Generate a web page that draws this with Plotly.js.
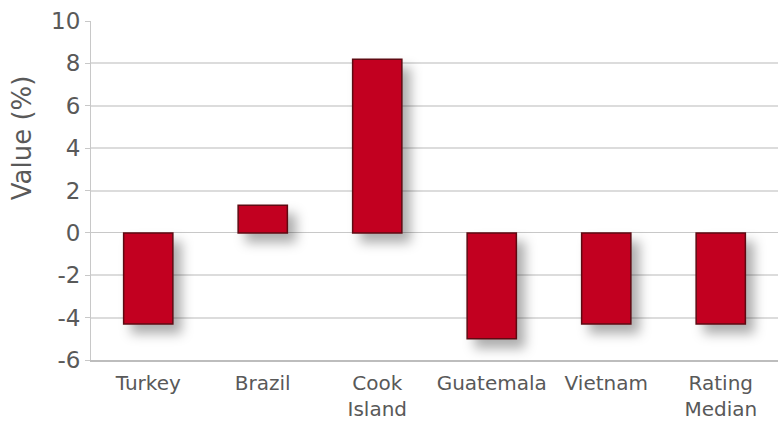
<!DOCTYPE html>
<html>
<head>
<meta charset="utf-8">
<script src="https://cdn.plot.ly/plotly-3.0.1.min.js"></script>
<style>
  html, body { margin: 0; padding: 0; background: #fff; }
  #chart { width: 778px; height: 423px; }
  /* soft drop shadow behind each bar */
  #chart .bars .point path { filter: drop-shadow(8px 9px 6px rgba(0,0,0,0.32)); }
</style>
</head>
<body>
<div id="chart"></div>
<script>
// Countries and their values (%)
const categories = ['Turkey', 'Brazil', 'Cook<br>Island', 'Guatemala', 'Vietnam', 'Rating<br>Median'];
const values = [-4.3, 1.3, 8.2, -5.0, -4.3, -4.3];
const yTicks = [-6, -4, -2, 0, 2, 4, 6, 8, 10];

const textColor = '#595959';
const fontFamily = '"DejaVu Sans", sans-serif';

const trace = {
  type: 'bar',
  x: categories,
  y: values,
  marker: {
    color: '#c20020',
    line: { color: '#5e0a12', width: 1.5 }
  },
  hoverinfo: 'x+y'
};

const layout = {
  width: 778,
  height: 423,
  margin: { l: 91, r: 0, t: 21, b: 63 },
  paper_bgcolor: '#ffffff',
  plot_bgcolor: '#ffffff',
  bargap: 0.57,
  showlegend: false,
  font: { family: fontFamily, color: textColor },
  xaxis: {
    type: 'category',
    showgrid: false,
    showline: true,
    linecolor: '#bdbdbd',
    linewidth: 2,
    ticks: '',
    ticklabelstandoff: 4,
    tickfont: { size: 20, color: textColor },
    automargin: false
  },
  yaxis: {
    range: [-6, 10],
    tickvals: yTicks,
    ticktext: yTicks.map(String),
    showgrid: true,
    gridcolor: '#dcdcdc',
    gridwidth: 2,
    zeroline: true,
    zerolinecolor: '#c8c8c8',
    zerolinewidth: 1,
    showline: true,
    linecolor: '#c8c8c8',
    linewidth: 1,
    ticks: 'outside',
    ticklen: 5,
    tickcolor: '#c8c8c8',
    tickfont: { size: 23, color: textColor },
    automargin: false
  },
  annotations: [{
    text: 'Value (%)',
    xref: 'paper', yref: 'paper',
    x: -0.1, y: 0.655,
    xanchor: 'center', yanchor: 'middle',
    textangle: -90,
    showarrow: false,
    font: { size: 26, color: textColor, family: fontFamily }
  }]
};

Plotly.newPlot('chart', [trace], layout, { displayModeBar: false, staticPlot: true });
</script>
</body>
</html>
